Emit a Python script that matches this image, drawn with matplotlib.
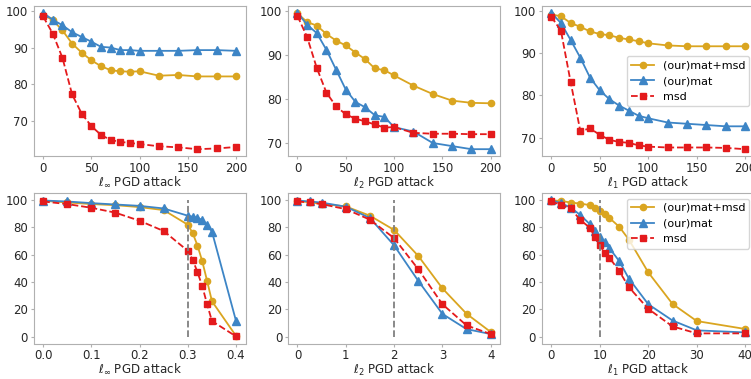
import matplotlib.pyplot as plt
from matplotlib.ticker import MultipleLocator

# ---- top row: large-epsilon sweeps ----
x_top = [0, 10, 20, 30, 40, 50, 60, 70, 80, 90, 100, 120, 140, 160, 180, 200]

linf_top_matmsd = [99.0, 97.5, 94.7, 91.1, 88.6, 86.5, 84.9, 83.8, 83.5, 83.4, 83.5, 82.3, 82.5, 82.1, 82.1, 82.1]
linf_top_mat = [99.5, 97.6, 96.1, 94.2, 92.9, 91.6, 90.2, 90.0, 89.3, 89.3, 89.1, 89.1, 89.1, 89.3, 89.3, 89.1]
linf_top_msd = [98.5, 93.8, 87.2, 77.2, 71.9, 68.5, 66.1, 64.7, 64.2, 63.9, 63.6, 63.0, 62.7, 62.2, 62.4, 62.8]

l2_top_matmsd = [99.4, 97.4, 96.6, 94.7, 93.2, 92.1, 90.5, 89.0, 86.9, 86.5, 85.3, 83.0, 81.1, 79.6, 79.1, 79.0]
l2_top_mat = [99.5, 96.8, 94.9, 91.1, 86.6, 82.1, 79.3, 78.1, 76.3, 75.9, 73.6, 72.6, 70.0, 69.3, 68.6, 68.6]
l2_top_msd = [98.8, 94.0, 87.0, 81.4, 78.3, 76.5, 75.5, 74.9, 74.2, 73.5, 73.6, 72.3, 72.1, 72.1, 72.0, 72.0]

l1_top_matmsd = [99.1, 98.7, 97.1, 96.2, 95.1, 94.5, 94.2, 93.6, 93.2, 92.8, 92.3, 91.8, 91.6, 91.6, 91.6, 91.6]
l1_top_mat = [99.5, 97.1, 93.1, 88.9, 84.2, 81.2, 79.1, 77.6, 76.4, 75.2, 74.6, 73.6, 73.3, 73.0, 72.7, 72.7]
l1_top_msd = [98.6, 95.3, 83.2, 71.6, 72.2, 70.7, 69.5, 69.0, 68.8, 68.2, 67.9, 67.7, 67.7, 67.7, 67.6, 67.3]

# ---- bottom row: standard epsilon sweeps ----
x_linf = [0.0, 0.05, 0.1, 0.15, 0.2, 0.25, 0.3, 0.31, 0.32, 0.33, 0.34, 0.35, 0.4]
linf_matmsd = [99.3, 98.1, 96.9, 96.1, 94.7, 92.5, 81.8, 75.8, 66.6, 55.0, 40.7, 25.9, 0.5]
linf_mat = [99.5, 98.8, 97.6, 96.6, 95.6, 93.7, 88.4, 87.7, 86.9, 85.2, 81.8, 76.8, 11.4]
linf_msd = [98.8, 96.9, 94.2, 90.6, 84.7, 77.2, 62.7, 56.2, 47.2, 36.8, 23.7, 11.4, 0.2]

x_l2 = [0, 0.25, 0.5, 1, 1.5, 2, 2.5, 3, 3.5, 4]
l2_matmsd = [99.0, 98.3, 97.0, 95.2, 88.4, 78.0, 59.0, 35.3, 16.7, 3.4]
l2_mat = [99.5, 98.8, 98.0, 95.0, 86.7, 66.7, 40.8, 16.6, 5.5, 1.9]
l2_msd = [98.8, 98.1, 96.9, 93.2, 85.5, 72.0, 49.3, 23.7, 8.2, 1.9]

x_l1 = [0, 2, 4, 6, 8, 9, 10, 11, 12, 14, 16, 20, 25, 30, 40]
l1_matmsd = [99.5, 99.3, 98.0, 97.3, 96.1, 94.2, 91.5, 89.6, 86.7, 80.4, 71.0, 47.0, 23.9, 11.4, 5.6]
l1_mat = [99.8, 97.6, 94.4, 88.9, 82.1, 77.5, 73.2, 69.1, 64.7, 55.3, 42.5, 23.7, 11.8, 4.6, 3.1]
l1_msd = [98.8, 96.4, 93.7, 85.3, 79.5, 72.7, 67.1, 61.1, 57.7, 48.1, 36.2, 20.3, 7.5, 2.4, 2.4]

labels = ['(our)mat+msd', '(our)mat', 'msd']
eps_lines = [0.3, 2, 10]

GOLD = '#daa520'
BLUE = '#3d85c6'
RED = '#e41a1c'

plt.rcParams['font.size'] = 8.5
plt.rcParams['axes.edgecolor'] = '#b0b0b0'
plt.rcParams['xtick.color'] = '#b0b0b0'
plt.rcParams['ytick.color'] = '#b0b0b0'
plt.rcParams['xtick.labelcolor'] = '#262626'
plt.rcParams['ytick.labelcolor'] = '#262626'

W, H = 751, 379
fig = plt.figure(figsize=(W / 100, H / 100), dpi=100)


def make_ax(left, top, right, bottom):
    return fig.add_axes([left / W, 1 - bottom / H, (right - left) / W, (bottom - top) / H])


def draw(ax, x, matmsd, mat, msd, xlabel, vline=None, legend_loc=None):
    ax.plot(x, matmsd, color=GOLD, marker='o', markersize=4.5, lw=1.3, label=labels[0])
    ax.plot(x, mat, color=BLUE, marker='^', markersize=6, lw=1.3, label=labels[1])
    ax.plot(x, msd, color=RED, marker='s', markersize=4.5, lw=1.3, ls='--', label=labels[2])
    if vline is not None:
        ax.vlines(vline, 0, 100, colors='gray', linestyles='dashed', lw=1.3)
        ax.yaxis.set_major_locator(MultipleLocator(20))
    ax.set_xlabel(xlabel, fontsize=8.5, color='#262626', labelpad=0)
    ax.tick_params(length=2.5, pad=1.5)
    if legend_loc:
        ax.legend(loc=legend_loc, fontsize=8)


cols = [(33.5, 245.7), (287.8, 500.4), (541.5, 755)]
top_y = (6, 156)
bot_y = (193, 343.5)

names = [r'$\ell_\infty$ PGD attack', r'$\ell_2$ PGD attack', r'$\ell_1$ PGD attack']

ax = make_ax(cols[0][0], top_y[0], cols[0][1], top_y[1])
draw(ax, x_top, linf_top_matmsd, linf_top_mat, linf_top_msd, names[0])
ax = make_ax(cols[1][0], top_y[0], cols[1][1], top_y[1])
draw(ax, x_top, l2_top_matmsd, l2_top_mat, l2_top_msd, names[1])
ax = make_ax(cols[2][0], top_y[0], cols[2][1], top_y[1])
draw(ax, x_top, l1_top_matmsd, l1_top_mat, l1_top_msd, names[2], legend_loc='center right')

ax = make_ax(cols[0][0], bot_y[0], cols[0][1], bot_y[1])
draw(ax, x_linf, linf_matmsd, linf_mat, linf_msd, names[0], vline=eps_lines[0])
ax = make_ax(cols[1][0], bot_y[0], cols[1][1], bot_y[1])
draw(ax, x_l2, l2_matmsd, l2_mat, l2_msd, names[1], vline=eps_lines[1])
ax = make_ax(cols[2][0], bot_y[0], cols[2][1], bot_y[1])
draw(ax, x_l1, l1_matmsd, l1_mat, l1_msd, names[2], vline=eps_lines[2], legend_loc='upper right')

fig.savefig('out.png', dpi=100)
